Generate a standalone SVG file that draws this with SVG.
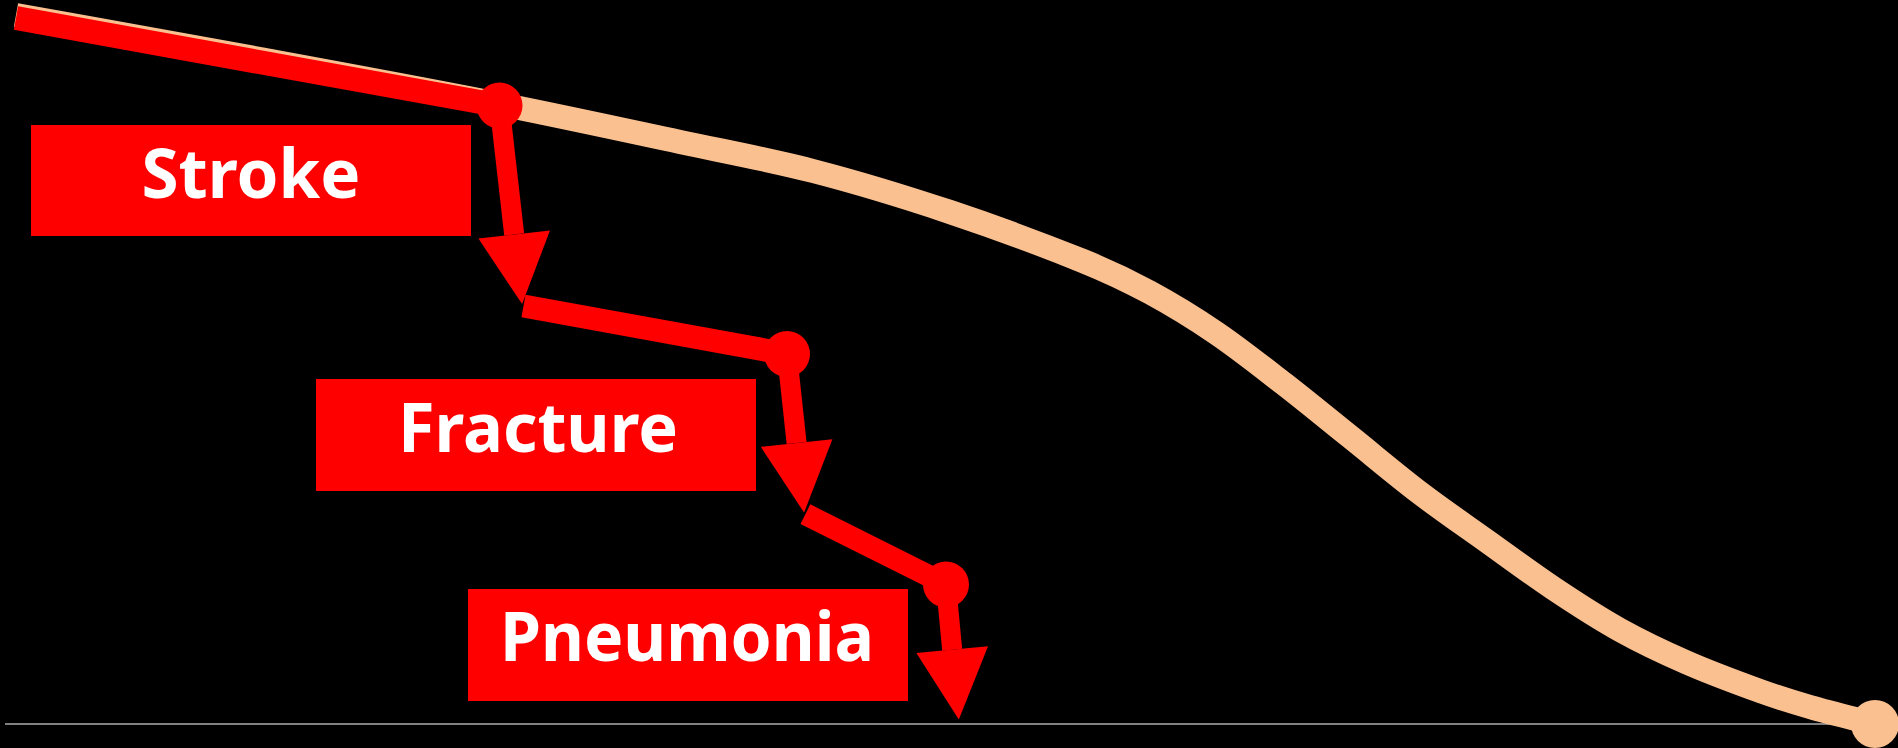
<svg xmlns="http://www.w3.org/2000/svg" width="1898" height="748" viewBox="0 0 1898 748">
  <style>
    .seg { stroke: #FF0000; fill: none; stroke-linecap: butt; }
    .arrow { stroke: #FF0000; stroke-width: 20; fill: none; marker-end: url(#ah); }
    .dot { fill: #FF0000; }
    .box { fill: #FF0000; }
    .label { fill: #FFFFFF; font-family: "Noto Sans", "DejaVu Sans", sans-serif; font-weight: bold; font-size: 69px; text-anchor: middle; }
  </style>
  <defs>
    <marker id="ah" markerUnits="userSpaceOnUse" orient="auto" refX="0" refY="0" markerWidth="72" markerHeight="72" overflow="visible">
      <path d="M0,-36 L70,0 L0,36 Z" fill="#FF0000"/>
    </marker>
  </defs>
  <rect x="0" y="0" width="1898" height="748" fill="#000000"/>
  <line id="axis" x1="5" y1="724" x2="1870" y2="724" stroke="#808080" stroke-width="2"/>
  <g id="trajectory">
    <path d="M16,15 C97.33,29.64 178.67,44.03 260,59 C339.67,73.66 419.33,88.23 499,104 C559.33,115.95 619.67,129.15 680,142 C724.33,151.44 768.67,159.52 813,171 C858.67,182.83 904.33,196.79 950,212 C994.33,226.76 1038.67,243.16 1083,261 C1105.33,269.99 1127.67,280.42 1150,292.5 C1172.23,304.53 1194.47,318.16 1216.7,333.3 C1238.9,348.42 1261.1,366.07 1283.3,383.3 C1305.53,400.55 1327.77,418.87 1350,436.7 C1373.33,455.41 1396.67,475.2 1420,493 C1442.23,509.96 1464.47,525.11 1486.7,541 C1508.9,556.87 1531.1,573.47 1553.3,588.3 C1575.53,603.15 1597.77,617.64 1620,630 C1642.23,642.36 1664.47,652.81 1686.7,662.5 C1711.13,673.15 1735.57,682.18 1760,691 C1776.67,697.02 1793.33,702.22 1810,707 C1831.67,713.22 1853.33,718.37 1875,724" fill="none" stroke="#FAC090" stroke-width="24"/>
    <circle cx="1875" cy="724" r="24" fill="#FAC090"/>
  </g>
  <g id="connectors">
    <line class="seg" x1="16" y1="18" x2="499.5" y2="105.5" stroke-width="24"/>
    <line class="seg" x1="523.5" y1="306" x2="787" y2="354" stroke-width="23"/>
    <line class="seg" x1="805.4" y1="514.2" x2="946" y2="584.5" stroke-width="22"/>
    <path class="arrow" d="M499.5,105.5 L514.2,234.5"/>
    <path class="arrow" d="M787,354 L796.6,443"/>
    <path class="arrow" d="M946,584.5 L952.2,649.7"/>
    <circle class="dot" cx="499.5" cy="105.5" r="23"/>
    <circle class="dot" cx="787" cy="354" r="23"/>
    <circle class="dot" cx="946" cy="584.5" r="23"/>
  </g>
  <g id="stroke">
    <rect class="box" x="31" y="125" width="440" height="111"/>
    <text class="label" x="251" y="198" textLength="219" lengthAdjust="spacingAndGlyphs">Stroke</text>
  </g>
  <g id="fracture">
    <rect class="box" x="316" y="379" width="440" height="112"/>
    <text class="label" x="538" y="452" textLength="280" lengthAdjust="spacingAndGlyphs">Fracture</text>
  </g>
  <g id="pneumonia">
    <rect class="box" x="468" y="589" width="440" height="112"/>
    <text class="label" x="687" y="661" textLength="374" lengthAdjust="spacingAndGlyphs">Pneumonia</text>
  </g>
</svg>
